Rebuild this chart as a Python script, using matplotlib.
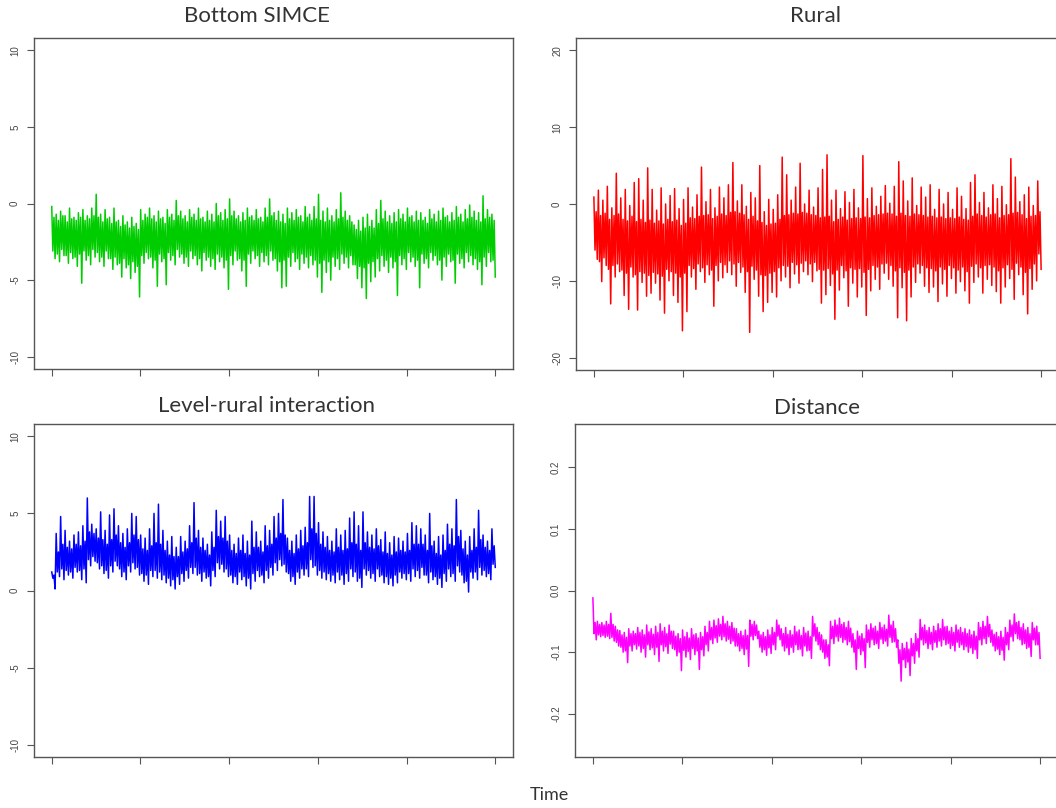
import numpy as np
import matplotlib.pyplot as plt

# thinned MCMC traces over 5000 iterations (values in tenths; distance in thousandths)
bottom_simce = np.array([
    -2, -31, -9, -36, -7, -33, -11, -38, -5, -30, -8, -34, -8, -34, -12, -39,
    -3, -32, -10, -36, -9, -35, -11, -41, -6, -33, -9, -52, -4, -31, -11, -37,
    -8, -34, -10, -40, -3, -30, -8, -35, 6, -32, -9, -38, -7, -35, -12, -41,
    -4, -31, -10, -36, -9, -36, -13, -43, -3, -35, -12, -40, -11, -39, -15, -48,
    -8, -36, -14, -42, -12, -40, -16, -49, -9, -38, -15, -45, -13, -41, -17, -61,
    -4, -34, -11, -39, -7, -32, -9, -36, -3, -35, -10, -42, -8, -37, -12, -54,
    -5, -33, -10, -38, -9, -36, -13, -53, -4, -32, -9, -37, -7, -34, -11, -40,
    2, -30, -8, -35, -5, -33, -10, -39, -8, -35, -12, -41, -4, -31, -9, -36,
    -7, -34, -11, -40, -3, -36, -10, -44, -9, -32, -12, -37, -5, -35, -11, -41,
    -7, -36, -12, -43, 0, -33, -8, -38, -6, -35, -11, -42, -4, -37, -10, -56,
    3, -34, -8, -40, -5, -31, -10, -37, -8, -36, -12, -44, -6, -37, -11, -54,
    -3, -33, -9, -39, -8, -31, -11, -36, -4, -34, -10, -41, -9, -32, -12, -38,
    -3, -34, -9, -40, 3, -31, -8, -37, -6, -36, -11, -44, -5, -38, -12, -55,
    -7, -37, -13, -54, -3, -35, -10, -41, -6, -32, -11, -38, -4, -36, -9, -43,
    -8, -33, -12, -39, -2, -35, -9, -42, -7, -34, -11, -40, -2, -37, -10, -48,
    6, -39, -11, -58, -5, -37, -12, -45, -3, -38, -11, -50, -8, -35, -12, -41,
    -4, -36, -10, -43, 7, -33, -9, -39, -5, -35, -11, -42, -8, -34, -12, -40,
    -14, -40, -17, -49, -11, -41, -18, -55, -9, -42, -16, -62, -7, -39, -15, -51,
    -11, -38, -16, -48, -4, -36, -13, -44, 2, -34, -10, -41, -5, -37, -12, -45,
    -8, -35, -13, -42, -6, -38, -12, -60, -4, -34, -10, -40, -7, -36, -12, -43,
    -3, -32, -9, -38, -8, -35, -12, -41, -5, -37, -11, -55, -6, -33, -11, -39,
    -9, -36, -13, -42, -4, -32, -10, -37, -7, -34, -12, -40, -5, -37, -11, -50,
    -3, -35, -9, -41, -8, -33, -12, -38, -6, -37, -11, -52, -2, -33, -9, -39,
    -7, -36, -12, -42, -4, -32, -10, -38, -1, -34, -9, -40, -5, -36, -11, -43,
    -6, -38, -12, -53, 5, -35, -10, -41, -4, -32, -9, -38, -7, -37, -11, -48,
]) / 10

rural = np.array([
    9, -60, -10, -72, 18, -75, -15, -101, 5, -70, -12, -80, 23, -85, -20, -130,
    -5, -80, -15, -95, 40, -78, -13, -88, 8, -86, -20, -119, 19, -90, -22, -137,
    -2, -82, -16, -95, 28, -92, -23, -138, 33, -88, -20, -102, 5, -90, -24, -120,
    47, -93, -21, -116, 19, -89, -25, -103, -8, -91, -22, -125, 21, -94, -26, -142,
    0, -85, -20, -100, 11, -88, -23, -119, 20, -90, -21, -128, -6, -95, -28, -165,
    6, -90, -25, -140, 21, -80, -18, -95, -4, -84, -19, -111, 12, -78, -16, -88,
    48, -83, -15, -102, 3, -79, -14, -92, 19, -86, -19, -133, -5, -80, -16, -100,
    22, -76, -13, -96, 8, -79, -15, -89, 25, -74, -11, -92, 54, -78, -10, -107,
    4, -76, -12, -89, 25, -82, -14, -115, -3, -88, -20, -167, 15, -81, -16, -98,
    8, -86, -22, -120, 50, -92, -24, -140, -10, -93, -28, -128, 6, -90, -26, -115,
    -7, -88, -25, -121, 12, -83, -20, -100, 61, -80, -15, -95, 38, -81, -14, -109,
    5, -76, -12, -91, 22, -79, -13, -103, 53, -77, -11, -88, 0, -74, -12, -92,
    18, -78, -14, -101, -4, -76, -15, -87, 21, -85, -18, -129, 45, -86, -17, -118,
    64, -84, -16, -106, 5, -91, -23, -150, 18, -86, -20, -112, -6, -80, -17, -96,
    16, -87, -21, -133, 2, -83, -19, -103, 19, -85, -18, -121, -5, -84, -19, -108,
    63, -89, -17, -145, 7, -85, -18, -113, 21, -80, -15, -98, -3, -82, -14, -111,
    10, -78, -13, -90, 24, -77, -12, -98, 1, -80, -13, -107, 23, -87, -16, -148,
    55, -83, -12, -109, 30, -89, -15, -152, 4, -86, -16, -121, 34, -82, -13, -102,
    -2, -78, -14, -90, 22, -80, -15, -107, 9, -83, -17, -115, 25, -84, -16, -108,
    -7, -87, -18, -127, 19, -82, -17, -104, 0, -85, -19, -120, 15, -80, -18, -97,
    -7, -83, -19, -116, 21, -86, -17, -101, 10, -82, -20, -113, -6, -88, -21, -129,
    28, -81, -16, -102, 38, -78, -13, -95, 2, -83, -15, -116, 15, -80, -17, -98,
    -5, -79, -14, -106, 25, -82, -13, -114, 7, -87, -18, -129, 23, -83, -15, -108,
    -1, -79, -14, -97, 59, -85, -12, -124, 35, -77, -11, -92, 3, -82, -14, -118,
    12, -89, -19, -143, 22, -84, -16, -111, -2, -78, -15, -100, 30, -65, -10, -85,
]) / 10

level_rural = np.array([
    12, 8, 10, 1, 37, 12, 25, 9, 48, 14, 30, 7, 39, 13, 28, 10,
    32, 12, 27, 8, 36, 15, 30, 12, 38, 13, 29, 7, 42, 14, 32, 5,
    60, 20, 38, 16, 43, 22, 37, 19, 40, 18, 34, 14, 51, 16, 33, 11,
    39, 13, 30, 8, 49, 16, 33, 12, 53, 19, 36, 16, 42, 14, 31, 9,
    37, 12, 28, 7, 40, 16, 31, 12, 50, 18, 36, 14, 48, 15, 33, 10,
    36, 11, 27, 6, 34, 10, 26, 4, 40, 13, 29, 9, 50, 13, 31, 8,
    56, 12, 30, 7, 39, 10, 26, 5, 32, 8, 23, 3, 35, 7, 22, 1,
    28, 9, 22, 4, 35, 11, 25, 6, 32, 13, 27, 8, 42, 15, 31, 11,
    57, 15, 34, 10, 39, 11, 28, 6, 34, 12, 26, 8, 30, 9, 23, 3,
    38, 13, 28, 9, 52, 18, 35, 14, 45, 17, 34, 12, 48, 14, 32, 9,
    36, 10, 26, 5, 30, 9, 24, 4, 34, 12, 26, 7, 36, 9, 24, 3,
    32, 8, 23, 1, 45, 11, 28, 6, 38, 13, 28, 9, 32, 10, 25, 5,
    42, 13, 29, 8, 39, 15, 30, 10, 48, 18, 34, 13, 50, 20, 37, 16,
    59, 17, 36, 12, 34, 11, 26, 6, 32, 9, 24, 4, 36, 12, 27, 8,
    39, 14, 29, 10, 41, 14, 31, 9, 61, 20, 40, 15, 61, 16, 37, 10,
    44, 13, 30, 8, 38, 12, 28, 7, 35, 11, 26, 6, 32, 10, 25, 5,
    40, 12, 28, 7, 36, 10, 26, 4, 39, 11, 27, 6, 47, 14, 31, 9,
    51, 12, 30, 6, 42, 8, 26, 2, 51, 14, 31, 10, 38, 13, 28, 8,
    36, 11, 27, 6, 40, 14, 29, 9, 33, 10, 25, 5, 38, 9, 24, 4,
    31, 8, 23, 3, 35, 10, 25, 5, 34, 12, 26, 8, 32, 11, 25, 7,
    37, 11, 26, 6, 44, 14, 30, 9, 42, 13, 30, 8, 40, 15, 30, 10,
    36, 10, 26, 5, 50, 12, 29, 7, 32, 9, 24, 4, 35, 8, 23, 2,
    36, 11, 26, 6, 43, 14, 30, 9, 40, 11, 29, 6, 59, 16, 35, 12,
    39, 10, 27, 5, 32, 6, 23, -1, 35, 12, 26, 8, 40, 12, 28, 7,
    52, 15, 33, 10, 36, 13, 28, 9, 32, 11, 26, 7, 40, 17, 29, 15,
]) / 10

distance = np.array([
    -12, -70, -52, -80, -50, -72, -55, -75, -52, -73, -56, -76, -50, -74, -55, -78,
    -37, -76, -55, -82, -58, -84, -64, -90, -65, -92, -72, -100, -68, -98, -76, -117,
    -62, -90, -70, -98, -66, -88, -70, -95, -60, -90, -68, -100, -64, -94, -72, -108,
    -56, -88, -67, -96, -62, -93, -71, -104, -58, -92, -68, -115, -54, -88, -66, -98,
    -60, -91, -70, -102, -56, -87, -66, -94, -66, -96, -74, -106, -70, -100, -78, -130,
    -64, -97, -75, -108, -68, -99, -77, -112, -62, -94, -72, -104, -70, -98, -77, -128,
    -68, -96, -75, -106, -58, -88, -68, -98, -50, -80, -60, -86, -48, -77, -57, -84,
    -46, -74, -55, -80, -42, -75, -54, -82, -50, -79, -58, -86, -52, -82, -61, -90,
    -62, -90, -70, -98, -66, -94, -73, -104, -64, -95, -73, -123, -48, -74, -55, -80,
    -50, -73, -56, -78, -66, -92, -72, -100, -68, -96, -75, -105, -64, -93, -72, -102,
    -60, -88, -68, -96, -48, -74, -56, -80, -62, -90, -70, -98, -60, -93, -71, -104,
    -65, -92, -72, -100, -58, -88, -67, -96, -64, -95, -73, -106, -60, -90, -69, -98,
    -66, -97, -75, -110, -42, -74, -54, -82, -60, -88, -68, -96, -72, -100, -80, -110,
    -80, -108, -88, -122, -50, -78, -58, -86, -48, -75, -56, -82, -45, -76, -55, -84,
    -52, -80, -60, -88, -50, -83, -61, -92, -70, -100, -80, -128, -66, -94, -74, -104,
    -70, -98, -78, -125, -56, -84, -64, -92, -54, -80, -61, -88, -58, -86, -66, -94,
    -52, -79, -60, -86, -56, -82, -63, -90, -40, -76, -56, -84, -50, -83, -62, -92,
    -80, -118, -96, -147, -86, -112, -94, -125, -84, -116, -95, -138, -78, -106, -86, -118,
    -70, -98, -78, -108, -47, -80, -60, -88, -56, -85, -65, -94, -60, -87, -68, -96,
    -58, -84, -65, -92, -54, -82, -62, -90, -47, -80, -59, -88, -58, -86, -66, -94,
    -60, -89, -68, -98, -56, -84, -64, -92, -60, -88, -68, -96, -62, -91, -70, -100,
    -64, -93, -72, -102, -66, -96, -74, -110, -52, -80, -60, -88, -50, -78, -58, -86,
    -42, -75, -55, -84, -64, -90, -71, -98, -68, -95, -75, -104, -66, -97, -76, -113,
    -60, -88, -68, -96, -48, -75, -56, -82, -38, -70, -52, -78, -50, -80, -60, -88,
    -54, -86, -64, -94, -60, -92, -70, -107, -52, -80, -61, -88, -58, -88, -68, -110,
]) / 1000

titles = ['Bottom SIMCE', 'Rural', 'Level-rural interaction', 'Distance']
colors = ['#00cd00', '#ff0000', '#0000ff', '#ff00ff']
series = [bottom_simce, rural, level_rural, distance]
yticks = [[-10, -5, 0, 5, 10], [-20, -10, 0, 10, 20],
          [-10, -5, 0, 5, 10], [-0.2, -0.1, 0.0, 0.1, 0.2]]
ylabels = [['-10', '-5', '0', '5', '10'], ['-20', '-10', '0', '10', '20'],
           ['-10', '-5', '0', '5', '10'], ['-0.2', '-0.1', '0.0', '0.1', '0.2']]
ylims = [(-10.8, 10.8), (-21.6, 21.6), (-10.8, 10.8), (-0.27, 0.27)]

W, H = 1056, 808
boxes = [(34, 513, 38, 369), (576, 1059, 38, 370),
         (34, 513, 424, 757), (575, 1058, 424, 757)]
title_x = [257, 816, 266, 817]
title_y = [16, 16, 406, 408]

title_font = {'family': 'Lato', 'weight': 'normal', 'color': '#333333'}

fig = plt.figure(figsize=(W / 100, H / 100), dpi=100)
for i in range(4):
    l, r, t, b = boxes[i]
    ax = fig.add_axes([l / W, 1 - b / H, (r - l) / W, (b - t) / H])
    y = series[i]
    x = np.linspace(0, 5000, len(y))
    ax.plot(x, y, color=colors[i], lw=1.1)
    ax.set_xlim(-200, 5200)
    ax.set_ylim(*ylims[i])
    ax.set_xticks(np.arange(0, 5001, 1000))
    ax.set_xticklabels([])
    ax.set_yticks(yticks[i])
    ax.set_yticklabels(ylabels[i], rotation=90, va='center',
                       fontsize=7, color='#444444', family='Liberation Sans')
    ax.tick_params(direction='out', length=5, width=0.8, color='#555555', pad=5)
    for s in ax.spines.values():
        s.set_color('#555555')
        s.set_linewidth(1.0)
    fig.text(title_x[i] / W, 1 - title_y[i] / H, titles[i], ha='center',
             va='center', fontsize=16, **title_font)

fig.text(549 / W, 1 - 795 / H, 'Time', ha='center', va='center',
         fontsize=13, **title_font)

fig.savefig('out.png', dpi=100)
